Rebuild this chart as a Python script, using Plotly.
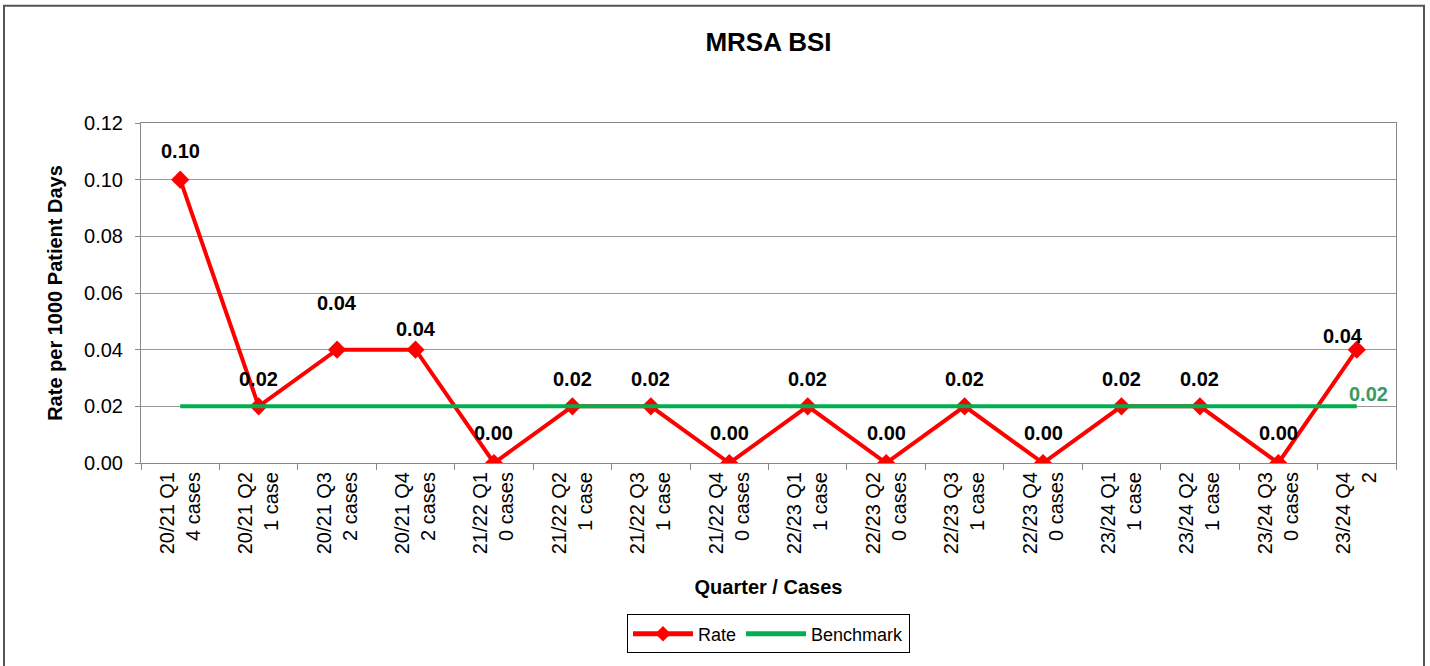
import plotly.graph_objects as go

quarters = ["20/21 Q1", "20/21 Q2", "20/21 Q3", "20/21 Q4",
            "21/22 Q1", "21/22 Q2", "21/22 Q3", "21/22 Q4",
            "22/23 Q1", "22/23 Q2", "22/23 Q3", "22/23 Q4",
            "23/24 Q1", "23/24 Q2", "23/24 Q3", "23/24 Q4"]
cases = ["4 cases", "1 case", "2 cases", "2 cases",
         "0 cases", "1 case", "1 case", "0 cases",
         "1 case", "0 cases", "1 case", "0 cases",
         "1 case", "1 case", "0 cases", "2"]
rate = [0.10, 0.02, 0.04, 0.04, 0.00, 0.02, 0.02, 0.00,
        0.02, 0.00, 0.02, 0.00, 0.02, 0.02, 0.00, 0.04]
benchmark = [0.02] * 16
label_shift = [29, 27, 47, 21, 30, 27, 27, 30, 27, 30, 27, 30, 27, 27, 30, 14]
label_xshift = [0, 0, 0, 0, 0, 0, 0, 0, 0, 0, 0, 0, 0, 0, 0, -14]

cats = [f"{q}<br>{c}" for q, c in zip(quarters, cases)]
FONT = "Liberation Sans, Arial, sans-serif"

fig = go.Figure()
fig.add_trace(go.Scatter(x=cats, y=rate, name="Rate", mode="lines+markers",
                         line=dict(color="#FF0000", width=4),
                         marker=dict(symbol="diamond", size=14, color="#FF0000")))
fig.add_trace(go.Scatter(x=cats, y=benchmark, name="Benchmark", mode="lines",
                         line=dict(color="#00B050", width=4)))

annotations = []
for c, v, s, xs in zip(cats, rate, label_shift, label_xshift):
    annotations.append(dict(x=c, y=v, text=f"<b>{v:.2f}</b>", showarrow=False,
                            yshift=s, xshift=xs, xref="x", yref="y",
                            font=dict(family=FONT, size=20, color="black")))
annotations.append(dict(x=cats[-1], y=benchmark[-1], text=f"<b>{benchmark[-1]:.2f}</b>",
                        showarrow=False, xanchor="left", xshift=-10, yshift=12,
                        font=dict(family=FONT, size=20, color="#3A9A5F")))
fig.update_layout(annotations=annotations)

fig.update_layout(
    width=1430, height=666,
    margin=dict(l=141, r=34, t=123, b=201),
    paper_bgcolor="white", plot_bgcolor="white",
    title=dict(text="<b>MRSA BSI</b>", x=0.5, xref="paper", xanchor="center",
               y=1 - 42/666, yanchor="middle",
               font=dict(family=FONT, size=26, color="black")),
    font=dict(family=FONT, size=20, color="black"),
    showlegend=True,
    legend=dict(orientation="h", x=0.5, xanchor="center", y=(465 - 637) / 342, yanchor="middle",
                bordercolor="black", borderwidth=1, bgcolor="white",
                font=dict(family=FONT, size=18, color="black"),
                itemsizing="constant", itemwidth=60),
    shapes=[dict(type="rect", xref="paper", yref="paper",
                 x0=(4 - 141) / 1255, x1=(1424 - 141) / 1255,
                 y0=(465 - 680) / 342, y1=(465 - 5) / 342,
                 line=dict(color="#555555", width=2), layer="below")],
)

fig.update_xaxes(type="category", range=[-0.5, len(cats) - 0.5], autorange=False,
                 tickson="boundaries", ticks="outside", ticklen=6,
                 tickcolor="#888888", tickangle=-90,
                 showline=True, linecolor="#888888", linewidth=1, mirror=True,
                 showgrid=False,
                 tickfont=dict(family=FONT, size=20, color="black"),
                 title=dict(text="<b>Quarter / Cases</b>", standoff=26,
                            font=dict(family=FONT, size=20, color="black")))
fig.update_yaxes(range=[0, 0.12], dtick=0.02, tickformat=".2f",
                 ticks="outside", ticklen=5, tickcolor="#888888",
                 ticklabelstandoff=8,
                 showline=True, linecolor="#888888", linewidth=1, mirror=True,
                 showgrid=True, gridcolor="#999999", gridwidth=1, zeroline=False,
                 tickfont=dict(family=FONT, size=20, color="black"),
                 title=dict(text="<b>Rate per 1000 Patient Days</b>", standoff=16,
                            font=dict(family=FONT, size=20, color="black")))

fig.write_html("out.html", config={"displayModeBar": False},
               post_script="document.body.style.margin='0';")
